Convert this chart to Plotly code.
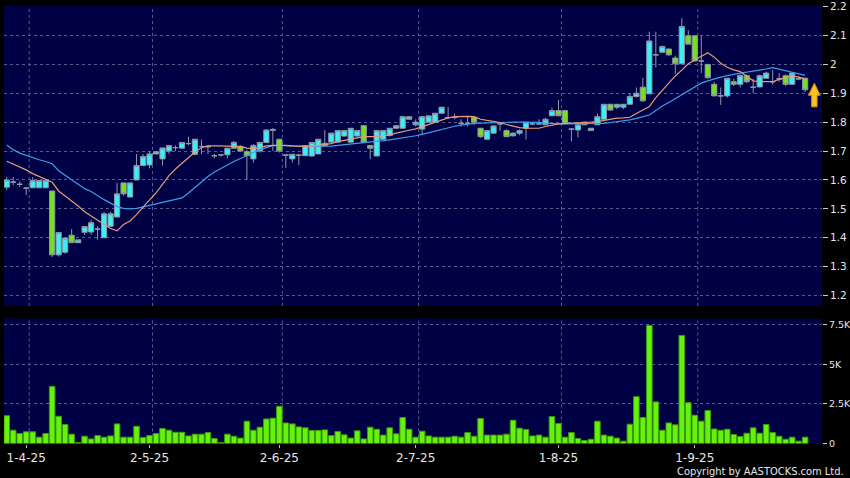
import plotly.graph_objects as go
import pandas as pd

# ---------------- data ----------------
hk_holidays = ["2025-04-04", "2025-04-18", "2025-04-21", "2025-05-01", "2025-05-05", "2025-07-01"]
dates = [d.strftime("%Y-%m-%d") for d in pd.bdate_range("2025-03-27", "2025-09-24")
         if d.strftime("%Y-%m-%d") not in hk_holidays]

open_ = [1.575, 1.592, 1.585, 1.572, 1.573, 1.573, 1.573, 1.562, 1.341, 1.350,
         1.409, 1.383, 1.419, 1.420, 1.430, 1.400, 1.440, 1.472, 1.590, 1.541,
         1.600, 1.650, 1.652, 1.690, 1.673, 1.700, 1.712, 1.710, 1.726, 1.689,
         1.716, 1.716, 1.684, 1.687, 1.687, 1.710, 1.716, 1.698, 1.673, 1.700,
         1.730, 1.775, 1.741, 1.686, 1.673, 1.686, 1.684, 1.683, 1.690, 1.719,
         1.731, 1.731, 1.752, 1.731, 1.752, 1.788, 1.719, 1.683, 1.741, 1.754,
         1.779, 1.779, 1.819, 1.791, 1.776, 1.800, 1.800, 1.831, 1.816, 1.816,
         1.796, 1.796, 1.817, 1.779, 1.741, 1.762, 1.794, 1.771, 1.753, 1.762,
         1.779, 1.794, 1.794, 1.791, 1.822, 1.840, 1.840, 1.776, 1.773, 1.800,
         1.771, 1.791, 1.810, 1.862, 1.852, 1.852, 1.862, 1.889, 1.921, 1.898,
         2.033, 2.042, 2.053, 2.022, 2.002, 2.099, 2.099, 2.012, 2.000, 1.931,
         1.891, 1.891, 1.940, 1.931, 1.961, 1.921, 1.922, 1.952, 1.940, 1.950,
         1.961, 1.931, 1.950, 1.952]
high = [1.610, 1.610, 1.595, 1.575, 1.610, 1.598, 1.600, 1.562, 1.418, 1.400,
        1.430, 1.393, 1.440, 1.462, 1.440, 1.490, 1.490, 1.590, 1.590, 1.590,
        1.690, 1.690, 1.700, 1.700, 1.711, 1.720, 1.720, 1.730, 1.750, 1.741,
        1.740, 1.720, 1.690, 1.690, 1.710, 1.735, 1.720, 1.705, 1.725, 1.730,
        1.775, 1.780, 1.741, 1.690, 1.690, 1.690, 1.720, 1.730, 1.741, 1.773,
        1.762, 1.771, 1.771, 1.779, 1.771, 1.790, 1.720, 1.771, 1.771, 1.780,
        1.790, 1.822, 1.820, 1.810, 1.822, 1.822, 1.831, 1.852, 1.852, 1.830,
        1.810, 1.820, 1.820, 1.780, 1.771, 1.790, 1.800, 1.775, 1.765, 1.775,
        1.800, 1.800, 1.810, 1.815, 1.850, 1.877, 1.840, 1.780, 1.800, 1.800,
        1.780, 1.830, 1.862, 1.862, 1.862, 1.862, 1.900, 1.920, 1.953, 2.113,
        2.113, 2.065, 2.055, 2.030, 2.160, 2.118, 2.099, 2.099, 2.000, 1.940,
        1.920, 1.952, 1.950, 1.965, 1.965, 1.950, 1.965, 1.975, 1.980, 1.970,
        1.965, 1.972, 1.960, 1.955]
low = [1.565, 1.582, 1.575, 1.548, 1.573, 1.573, 1.573, 1.333, 1.335, 1.345,
       1.383, 1.383, 1.410, 1.410, 1.393, 1.400, 1.440, 1.470, 1.545, 1.541,
       1.600, 1.650, 1.640, 1.690, 1.650, 1.690, 1.700, 1.710, 1.720, 1.685,
       1.690, 1.690, 1.675, 1.680, 1.675, 1.710, 1.700, 1.600, 1.660, 1.695,
       1.730, 1.700, 1.695, 1.642, 1.660, 1.652, 1.684, 1.680, 1.690, 1.719,
       1.730, 1.730, 1.750, 1.730, 1.750, 1.731, 1.672, 1.683, 1.740, 1.750,
       1.779, 1.779, 1.810, 1.785, 1.757, 1.800, 1.800, 1.831, 1.810, 1.810,
       1.785, 1.785, 1.790, 1.745, 1.741, 1.762, 1.770, 1.750, 1.750, 1.755,
       1.740, 1.790, 1.790, 1.790, 1.822, 1.822, 1.796, 1.733, 1.747, 1.790,
       1.770, 1.790, 1.810, 1.840, 1.845, 1.845, 1.860, 1.885, 1.870, 1.900,
       1.990, 2.040, 2.030, 1.967, 2.000, 2.070, 2.010, 1.970, 1.950, 1.890,
       1.860, 1.885, 1.925, 1.920, 1.935, 1.900, 1.920, 1.950, 1.930, 1.940,
       1.925, 1.930, 1.945, 1.905]
close = [1.600, 1.593, 1.585, 1.572, 1.598, 1.598, 1.598, 1.341, 1.418, 1.399,
         1.383, 1.393, 1.439, 1.452, 1.430, 1.483, 1.483, 1.552, 1.552, 1.590,
         1.650, 1.681, 1.690, 1.698, 1.711, 1.719, 1.712, 1.730, 1.726, 1.741,
         1.716, 1.715, 1.684, 1.687, 1.710, 1.730, 1.700, 1.684, 1.719, 1.730,
         1.773, 1.772, 1.700, 1.686, 1.689, 1.686, 1.719, 1.730, 1.741, 1.727,
         1.762, 1.771, 1.771, 1.779, 1.771, 1.731, 1.710, 1.771, 1.771, 1.779,
         1.788, 1.819, 1.810, 1.800, 1.819, 1.822, 1.831, 1.852, 1.816, 1.816,
         1.796, 1.796, 1.800, 1.750, 1.771, 1.787, 1.794, 1.750, 1.762, 1.771,
         1.800, 1.794, 1.794, 1.810, 1.840, 1.822, 1.796, 1.776, 1.791, 1.791,
         1.779, 1.819, 1.862, 1.842, 1.862, 1.862, 1.889, 1.900, 1.874, 2.081,
         2.033, 2.062, 2.033, 2.002, 2.131, 2.070, 2.012, 2.012, 1.954, 1.891,
         1.891, 1.952, 1.931, 1.962, 1.940, 1.921, 1.961, 1.970, 1.940, 1.950,
         1.931, 1.970, 1.950, 1.912]

ma_fast = [1.665, 1.655, 1.645, 1.635, 1.622, 1.612, 1.603, 1.592, 1.562, 1.545,
           1.528, 1.510, 1.490, 1.475, 1.460, 1.445, 1.432, 1.424, 1.446, 1.458,
           1.480, 1.506, 1.530, 1.555, 1.585, 1.615, 1.638, 1.658, 1.678, 1.697,
           1.712, 1.718, 1.718, 1.717, 1.717, 1.717, 1.716, 1.710, 1.708, 1.712,
           1.718, 1.720, 1.721, 1.720, 1.718, 1.716, 1.716, 1.717, 1.720, 1.722,
           1.726, 1.733, 1.737, 1.740, 1.745, 1.750, 1.750, 1.750, 1.753, 1.756,
           1.762, 1.768, 1.772, 1.777, 1.785, 1.793, 1.800, 1.808, 1.815, 1.819,
           1.820, 1.820, 1.819, 1.810, 1.806, 1.803, 1.799, 1.792, 1.786, 1.781,
           1.779, 1.779, 1.779, 1.785, 1.790, 1.794, 1.795, 1.796, 1.796, 1.798,
           1.800, 1.802, 1.806, 1.810, 1.814, 1.815, 1.817, 1.830, 1.842, 1.854,
           1.885, 1.910, 1.935, 1.960, 1.980, 2.002, 2.015, 2.028, 2.040, 2.025,
           2.004, 1.990, 1.981, 1.975, 1.960, 1.943, 1.940, 1.939, 1.940, 1.948,
           1.954, 1.960, 1.956, 1.950]
ma_slow = [1.721, 1.705, 1.693, 1.685, 1.676, 1.670, 1.664, 1.656, 1.632, 1.617,
           1.600, 1.585, 1.570, 1.560, 1.545, 1.532, 1.520, 1.508, 1.502, 1.500,
           1.502, 1.507, 1.513, 1.518, 1.523, 1.528, 1.533, 1.538, 1.555, 1.575,
           1.595, 1.612, 1.628, 1.641, 1.652, 1.664, 1.675, 1.685, 1.695, 1.705,
           1.713, 1.719, 1.720, 1.718, 1.716, 1.716, 1.716, 1.716, 1.716, 1.716,
           1.717, 1.720, 1.722, 1.725, 1.727, 1.730, 1.732, 1.734, 1.736, 1.739,
           1.742, 1.745, 1.749, 1.753, 1.758, 1.764, 1.770, 1.776, 1.781, 1.786,
           1.790, 1.794, 1.796, 1.797, 1.798, 1.799, 1.800, 1.800, 1.800, 1.800,
           1.800, 1.800, 1.799, 1.797, 1.795, 1.794, 1.794, 1.794, 1.794, 1.794,
           1.794, 1.795, 1.796, 1.799, 1.802, 1.804, 1.808, 1.813, 1.819, 1.825,
           1.840, 1.856, 1.868, 1.881, 1.894, 1.908, 1.922, 1.935, 1.943, 1.950,
           1.956, 1.961, 1.966, 1.970, 1.973, 1.976, 1.979, 1.984, 1.989, 1.984,
           1.978, 1.972, 1.968, 1.962]

volume_k = [1.76, 0.84, 0.63, 0.74, 0.74, 0.40, 0.63, 3.61, 1.72, 1.20,
            0.59, 0.06, 0.46, 0.29, 0.50, 0.40, 0.48, 1.24, 0.40, 0.40,
            1.09, 0.38, 0.50, 0.63, 0.95, 0.84, 0.71, 0.71, 0.48, 0.59,
            0.59, 0.69, 0.32, 0.06, 0.59, 0.46, 0.34, 1.41, 0.84, 1.03,
            1.55, 1.60, 2.35, 1.30, 1.24, 1.05, 0.99, 0.82, 0.82, 0.86,
            0.50, 0.76, 0.55, 0.34, 0.80, 0.29, 1.03, 0.90, 0.53, 0.99,
            0.61, 1.64, 0.90, 0.40, 0.78, 0.48, 0.40, 0.40, 0.40, 0.46,
            0.40, 0.69, 0.46, 1.58, 0.53, 0.53, 0.53, 0.59, 1.47, 0.97,
            0.88, 0.48, 0.53, 0.40, 1.70, 1.26, 0.40, 0.69, 0.32, 0.19,
            0.27, 1.41, 0.53, 0.46, 0.34, 0.15, 1.22, 2.96, 1.64, 7.46,
            2.63, 0.84, 1.30, 1.18, 6.83, 2.58, 1.79, 1.41, 2.08, 0.92,
            0.84, 0.90, 0.57, 0.44, 0.65, 0.99, 0.65, 1.20, 0.69, 0.46,
            0.27, 0.40, 0.15, 0.40]

tick_dates = ["2025-04-01", "2025-05-02", "2025-06-02", "2025-07-02", "2025-08-01", "2025-09-01"]
tick_text = ["1-4-25", "2-5-25", "2-6-25", "2-7-25", "1-8-25", "1-9-25"]
price_ticks = [1.2, 1.3, 1.4, 1.5, 1.6, 1.7, 1.8, 1.9, 2.0, 2.1, 2.2]
price_tick_text = ["1.2", "1.3", "1.4", "1.5", "1.6", "1.7", "1.8", "1.9", "2", "2.1", "2.2"]
vol_ticks = [0, 2.5, 5, 7.5]
vol_tick_text = ["0", "2.5K", "5K", "7.5K"]

# ---------------- style ----------------
W, H = 850, 478
BG = "#000000"
PLOT_BG = "#000044"
GRID = "#5a5a8e"
CYAN = "#3ceef6"
LIME = "#76e01c"
EDGE = "#8c98a6"
VOL = "#66f20c"
VOL_EDGE = "#3a9a0a"
TXT = "#e6e6e6"

x_dom = [4 / W, 822 / W]
price_dom = [1 - 306 / H, 1 - 6 / H]
vol_dom = [1 - 443.5 / H, 1 - 318.5 / H]
x_range = [-0.42, len(dates) - 1 + 2.6]

fig = go.Figure()

fig.add_trace(go.Candlestick(
    x=dates, open=open_, high=high, low=low, close=close,
    xaxis="x", yaxis="y", whiskerwidth=0,
    increasing=dict(fillcolor=CYAN, line=dict(color=EDGE, width=1)),
    decreasing=dict(fillcolor=LIME, line=dict(color=EDGE, width=1)),
    showlegend=False, name="Price"))

fig.add_trace(go.Scatter(x=dates, y=ma_slow, mode="lines", xaxis="x", yaxis="y",
                         line=dict(color="#3c9ee6", width=1.2), showlegend=False, name="MA20"))
fig.add_trace(go.Scatter(x=dates, y=ma_fast, mode="lines", xaxis="x", yaxis="y",
                         line=dict(color="#e59a78", width=1.2), showlegend=False, name="MA10"))

fig.add_trace(go.Bar(x=dates, y=volume_k, xaxis="x2", yaxis="y2",
                     marker=dict(color=VOL, line=dict(color=VOL_EDGE, width=1)),
                     showlegend=False, name="Volume"))

shapes = []
for d in tick_dates:
    xi = dates.index(d) + 0.46
    for xr, yr in (("x", "y domain"), ("x2", "y2 domain")):
        shapes.append(dict(type="line", xref=xr, yref=yr, x0=xi, x1=xi, y0=0, y1=1,
                           line=dict(color=GRID, width=1, dash="3px,3px"), layer="below"))

# yellow "latest" arrow next to the last candle
xa = len(dates) - 1 + 1.42
yc = close[-1]
hw, sw = 0.9, 0.42
tip, base, bottom = yc + 0.023, yc - 0.019, yc - 0.059
path = (f"M {xa} {tip} L {xa + hw} {base} L {xa + sw} {base} L {xa + sw} {bottom} "
        f"L {xa - sw} {bottom} L {xa - sw} {base} L {xa - hw} {base} Z")
shapes.append(dict(type="path", xref="x", yref="y", path=path,
                   fillcolor="#f7c224", line=dict(color="#d98c00", width=1), layer="above"))

price_font = dict(family="DejaVu Sans", size=10.5, color=TXT)
vol_font = dict(family="DejaVu Sans", size=9.5, color=TXT)

fig.update_layout(
    width=W, height=H, autosize=False,
    margin=dict(l=0, r=0, t=0, b=0),
    paper_bgcolor=BG, plot_bgcolor=PLOT_BG,
    boxgap=0.2, boxgroupgap=0, bargap=0.14,
    showlegend=False,
    shapes=shapes,
    xaxis=dict(domain=x_dom, anchor="y", type="category", range=x_range,
               showgrid=False, showticklabels=False, ticks="", zeroline=False,
               showline=False, rangeslider=dict(visible=False), automargin=False),
    xaxis2=dict(domain=x_dom, anchor="y2", type="category", range=x_range,
                showgrid=False, zeroline=False, showline=False,
                tickmode="array", tickvals=tick_dates, ticktext=tick_text,
                ticks="outside", ticklen=3, tickcolor="#bbbbbb", tickangle=0,
                tickfont=dict(family="DejaVu Sans", size=12, color=TXT), automargin=False),
    yaxis=dict(domain=price_dom, anchor="x", side="right", range=[1.164, 2.202],
               tickmode="array", tickvals=price_ticks, ticktext=price_tick_text,
               ticks="outside", ticklen=5, tickcolor="#cccccc",
               showgrid=True, gridcolor=GRID, gridwidth=1, griddash="3px,3px",
               zeroline=False, showline=False, tickfont=price_font, automargin=False),
    yaxis2=dict(domain=vol_dom, anchor="x2", side="right", range=[0, 7.9],
                tickmode="array", tickvals=vol_ticks, ticktext=vol_tick_text,
                ticks="outside", ticklen=4, tickcolor="#cccccc",
                showgrid=True, gridcolor=GRID, gridwidth=1, griddash="3px,3px",
                zeroline=False, showline=False, tickfont=vol_font, automargin=False),
    annotations=[dict(text="Copyright by AASTOCKS.com Ltd.", xref="paper", yref="paper",
                      x=846 / W, y=1 - 471 / H, xanchor="right", yanchor="middle",
                      showarrow=False,
                      font=dict(family="DejaVu Sans Condensed, DejaVu Sans", size=11, color=TXT))],
)

fig.write_html("out.html", config={"displayModeBar": False},
               post_script="document.body.style.margin='0';document.body.style.background='#000';")
